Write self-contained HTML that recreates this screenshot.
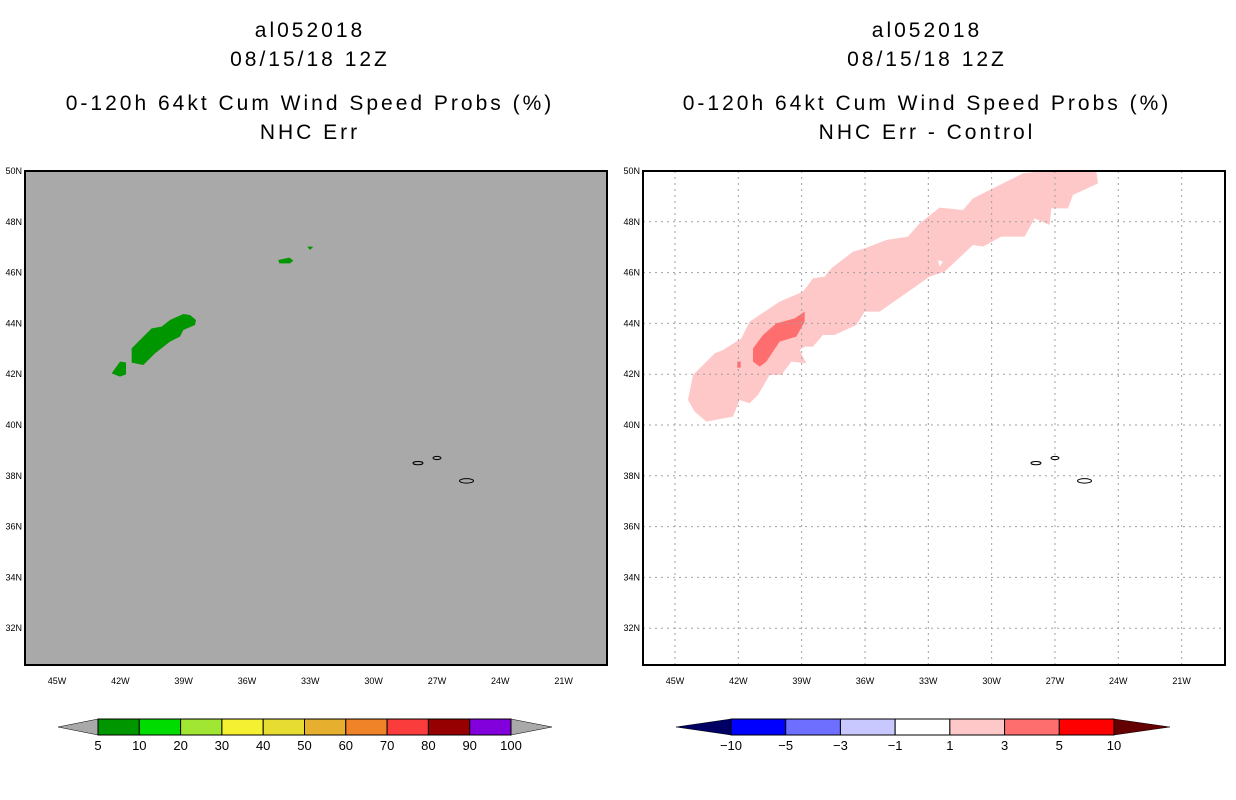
<!DOCTYPE html>
<html><head><meta charset="utf-8"><style>
body{margin:0;background:#fff;width:1236px;height:800px;overflow:hidden;font-family:"Liberation Sans",sans-serif}
svg{display:block}
.t{font-size:21px;letter-spacing:3px;fill:#000;text-anchor:middle}
.tk{font-size:9px;fill:#000}
.cl{font-size:13px;fill:#000;text-anchor:middle}
</style></head><body>
<svg id="s" width="1236" height="800">
<g>
<text class="t" x="310" y="37">al052018</text>
<text class="t" x="310" y="66">08/15/18 12Z</text>
<text class="t" x="310" y="110">0-120h 64kt Cum Wind Speed Probs (%)</text>
<text class="t" x="310" y="139">NHC Err</text>
</g>
<g>
<text class="t" x="927" y="37">al052018</text>
<text class="t" x="927" y="66">08/15/18 12Z</text>
<text class="t" x="927" y="110">0-120h 64kt Cum Wind Speed Probs (%)</text>
<text class="t" x="927" y="139">NHC Err - Control</text>
</g>
<rect x="25" y="171" width="582" height="494" fill="#a9a9a9"/>
<g transform="translate(90,230) scale(0.3333)" fill="#009600">
<polygon points="125,355 160,320 185,295 215,290 240,270 280,252 300,255 318,270 315,285 280,300 270,320 240,335 195,370 160,405 125,398"/>
<polygon points="65,430 90,395 108,397 108,433 90,440"/>
<polygon points="565,90 598,83 610,92 600,100 568,100"/>
<polygon points="652,50 670,50 660,60"/>
</g>
<g transform="translate(643,165) scale(0.3333)">
<polygon fill="#fec8c8" points="135,705 150,630 215,565 240,555 295,520 320,470 410,410 480,380 510,340 545,335 565,310 630,260 665,250 730,225 795,215 830,175 890,128 960,135 990,100 1050,70 1140,25 1200,18 1360,18 1365,55 1290,90 1275,130 1225,130 1220,180 1175,160 1145,215 1075,215 1020,245 990,240 905,320 860,335 760,405 710,440 665,440 640,480 575,510 540,510 510,545 485,545 470,555 490,595 445,590 415,630 380,630 345,690 320,715 290,705 270,755 190,770 155,740"/>
<polygon fill="#fe6e6e" points="330,550 360,510 400,475 455,460 485,440 485,470 460,515 410,530 370,590 350,605 330,590"/>
<rect fill="#fe6e6e" x="283" y="590" width="10" height="18"/>
<polygon fill="#fff" points="885,285 900,290 890,305"/>
</g>
<g id="grid" stroke="#a0a0a0" stroke-dasharray="2,4" stroke-width="1"></g>
<g id="land" fill="none" stroke="#000" stroke-width="1"></g>
<rect x="25" y="171" width="582" height="494" fill="none" stroke="#000" stroke-width="2"/>
<rect x="643" y="171" width="582" height="494" fill="none" stroke="#000" stroke-width="2"/>
<g id="ticks"></g>
<g id="cb"></g>
</svg>
<script>
const lonTicks=[-45,-42,-39,-36,-33,-30,-27,-24,-21];
const lonLabels=["45W","42W","39W","36W","33W","30W","27W","24W","21W"];
const latTicks=[50,48,46,44,42,40,38,36,34,32];
const latLabels=["50N","48N","46N","44N","42N","40N","38N","36N","34N","32N"];
const probLevels=["5","10","20","30","40","50","60","70","80","90","100"];
const probColors=["#009600","#00dc00","#a0e632","#f5f032","#e6dc32","#e6af2d","#f08228","#fa3c3c","#960000","#8200dc"];
const diffLevels=["-10","-5","-3","-1","1","3","5","10"];
const diffColors=["#0000ff","#6e6eff","#c8c8ff","#ffffff","#ffc8c8","#ff6e6e","#ff0000"];
const NS="http://www.w3.org/2000/svg";
const svg=document.getElementById('s');
function xs(lon,off){return off+57+(lon+45)*21.11;}
function ys(lat){return 171+(50-lat)*25.4;}
function mk(t,a,p){const e=document.createElementNS(NS,t);for(const k in a)e.setAttribute(k,a[k]);(p||svg).appendChild(e);return e;}
const grid=document.getElementById('grid'),ticks=document.getElementById('ticks'),cb=document.getElementById('cb'),land=document.getElementById('land');
lonTicks.forEach((l,i)=>{
  const x=xs(l,618);
  const g=mk('line',{x1:x,x2:x,y1:171,y2:665},grid);
  
  
  [0,618].forEach(o=>{
    const t=mk('text',{x:xs(l,o),y:684,class:'tk','text-anchor':'middle'},ticks);t.textContent=lonLabels[i];
    
    
  });
});
latTicks.forEach((l,i)=>{
  const y=ys(l);
  if(l<50){const g=mk('line',{x1:643,x2:1225,y1:y,y2:y},grid);
  
  }
  [22,640].forEach(o=>{
    const t=mk('text',{x:o,y:y+3,class:'tk','text-anchor':'end'},ticks);t.textContent=latLabels[i];
    
    
  });
});
[0,618].forEach(o=>{
  [[-27.9,38.5,5,1.6],[-27,38.7,4,1.6],[-25.6,37.8,7,2.2]].forEach(a=>{
    const e=mk('ellipse',{cx:xs(a[0],o),cy:ys(a[1]),rx:a[2],ry:a[3]},land);
    
    
  });
});
function colorbar(x0,x1,tipL,tipR,cols,labs,lc,rc,name){
  const w=(x1-x0)/cols.length;
  const p1=mk('polygon',{points:`${tipL},727 ${x0},719 ${x0},735`,fill:lc,stroke:'#000','stroke-width':0.5},cb);
  
  
  const p2=mk('polygon',{points:`${tipR},727 ${x1},719 ${x1},735`,fill:rc,stroke:'#000','stroke-width':0.5},cb);
  
  
  cols.forEach((c,i)=>{
    const r=mk('rect',{x:x0+i*w,y:719,width:w,height:16,fill:c,stroke:'#000','stroke-width':1},cb);
    
    
  });
  labs.forEach((l,i)=>{
    const t=mk('text',{x:x0+i*w,y:750,class:'cl'},cb);t.textContent=l.replace('-','\u2212');
    
    
  });
}
colorbar(98,511,58,552,probColors,probLevels,'#a9a9a9','#a9a9a9','prob-colorbar');
colorbar(731,1114,676,1170,diffColors,diffLevels,'#000064','#640000','diff-colorbar');
</script>
</body></html>
